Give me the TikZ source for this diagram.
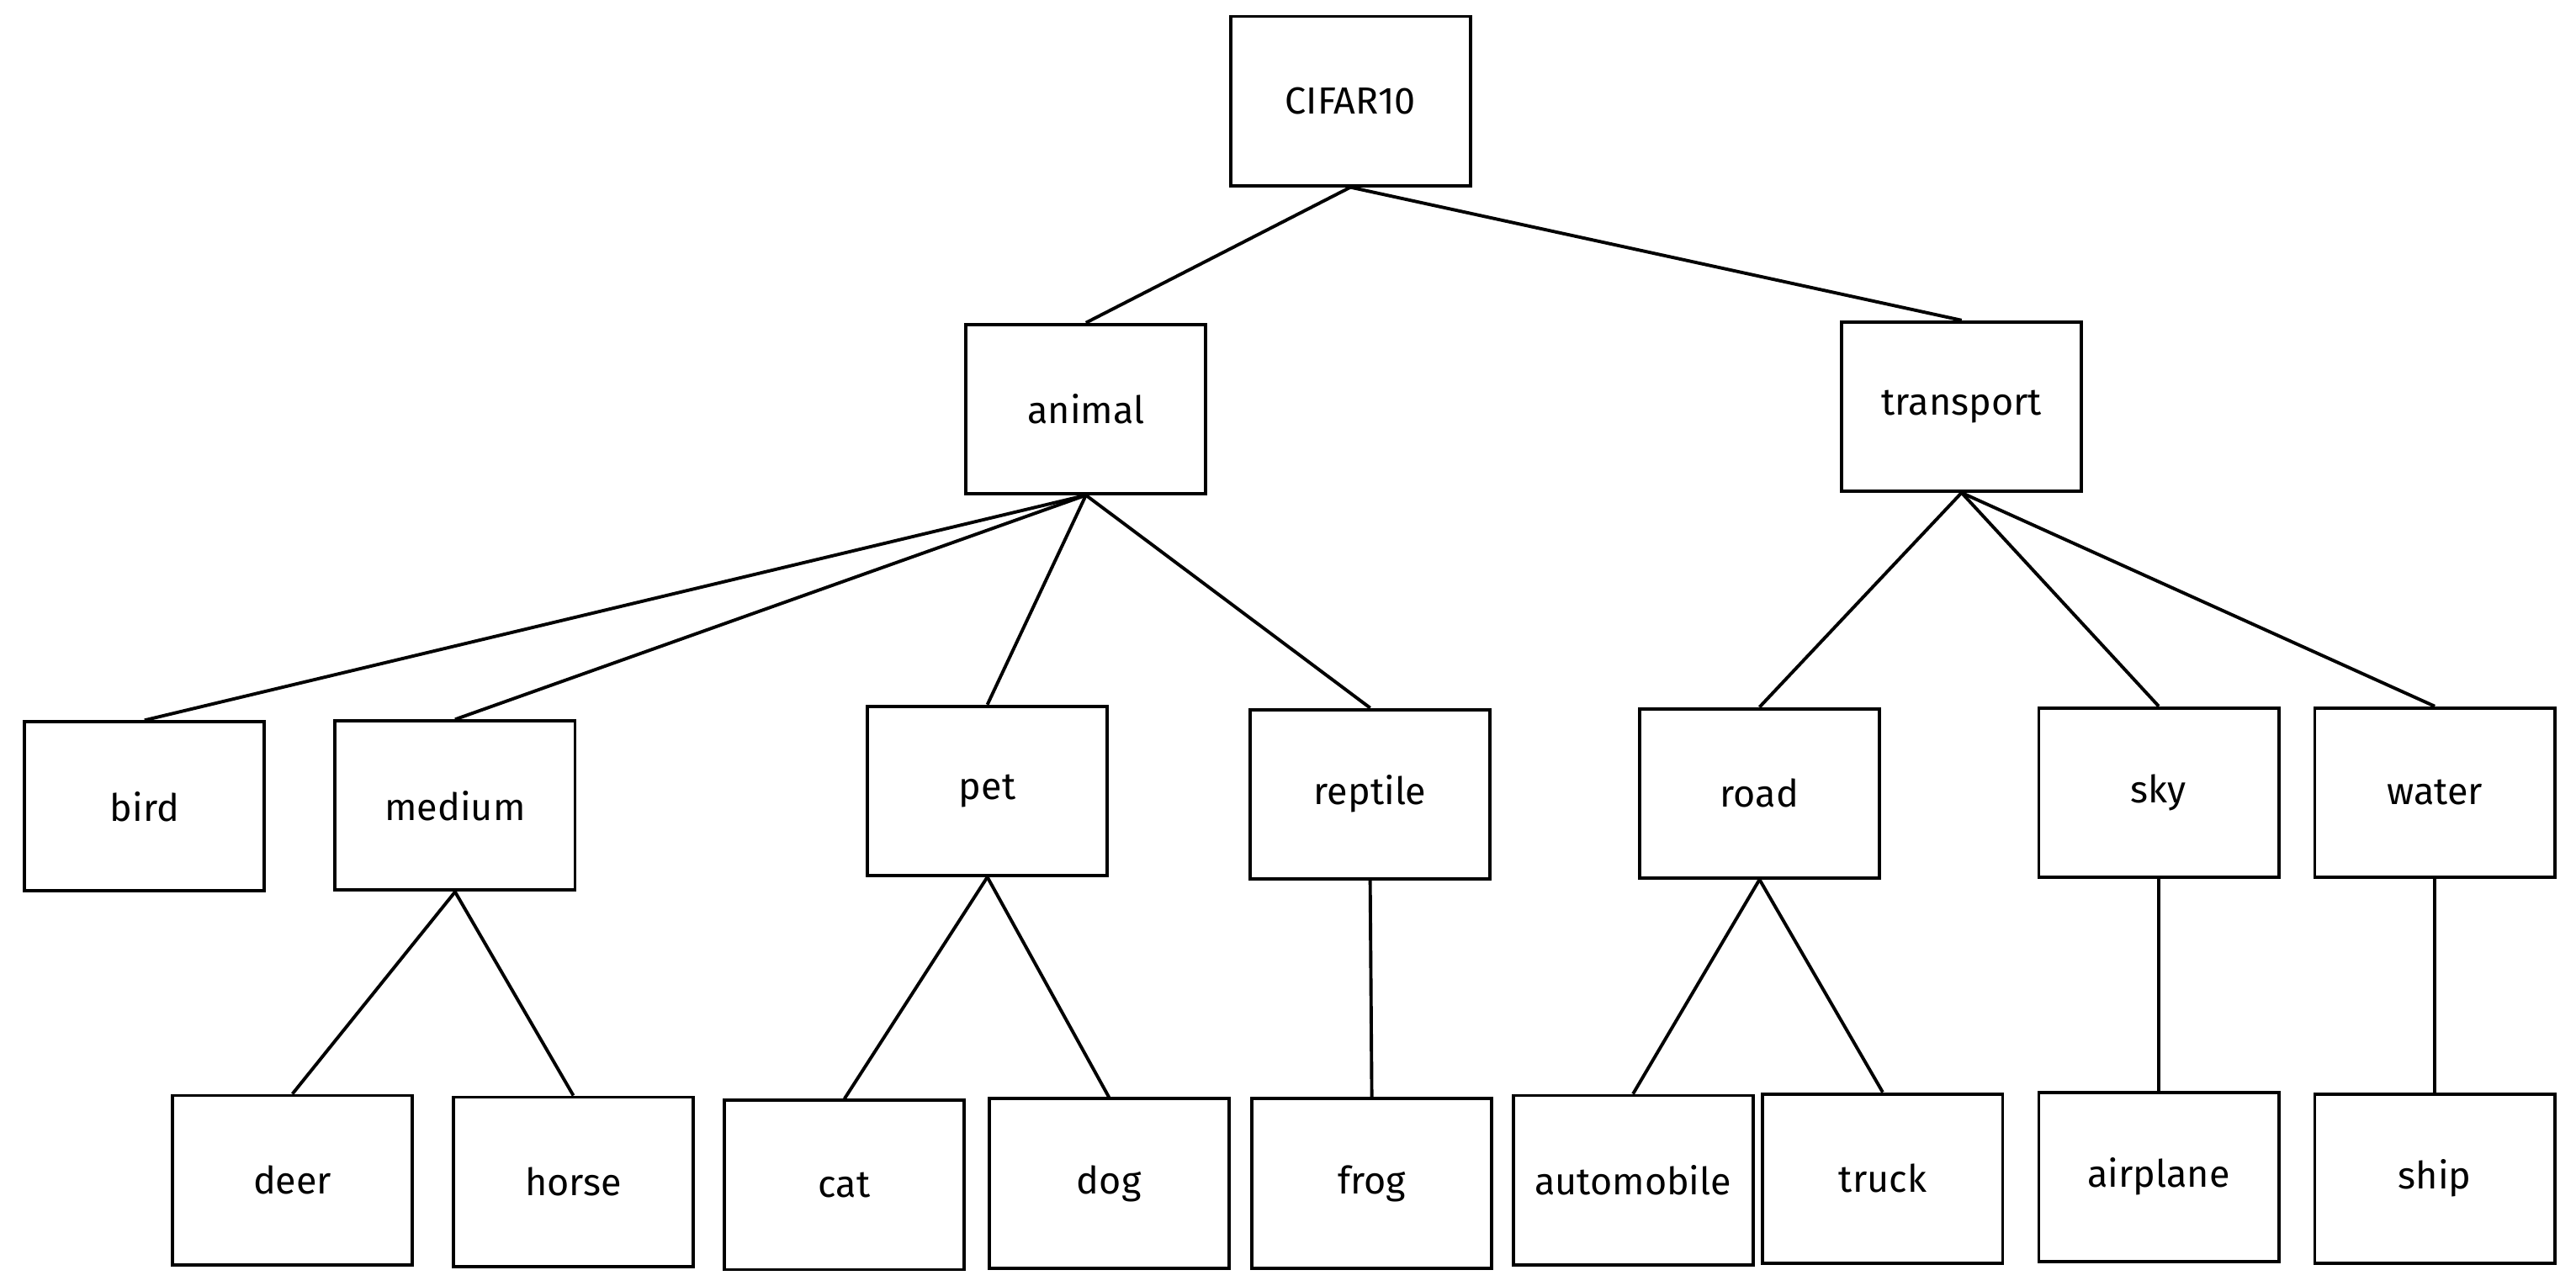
\documentclass[tikz,border=0pt]{standalone}
\usepackage{fontspec}
\setmainfont{Fira Sans}
\begin{document}
\begin{tikzpicture}[x=1pt,y=-1pt,
  box/.style={draw,line width=2pt,minimum width=146pt,minimum height=103pt,inner sep=0pt,font=\fontsize{23}{26}\selectfont},
  edge/.style={line width=2pt}]
\useasboundingbox (0,0) rectangle (1568,782.5);
\node[box] (cifar) at (822,61.5) {CIFAR10};
\node[box] (animal) at (661,249) {animal};
\node[box] (transport) at (1194,247.5) {transport};
\node[box] (bird) at (88,491) {bird};
\node[box] (medium) at (277,490.5) {medium};
\node[box] (pet) at (601,481.5) {pet};
\node[box] (reptile) at (834,483.5) {reptile};
\node[box] (road) at (1071,483) {road};
\node[box] (sky) at (1314,482.5) {sky};
\node[box] (water) at (1482,482.5) {water};
\node[box] (deer) at (178,718.5) {deer};
\node[box] (horse) at (349,719.5) {horse};
\node[box] (cat) at (514,721.5) {cat};
\node[box] (dog) at (675,720.5) {dog};
\node[box] (frog) at (835,720.5) {frog};
\node[box] (automobile) at (994,718.5) {automobile};
\node[box] (truck) at (1146,717.5) {truck};
\node[box] (airplane) at (1314,716.5) {airplane};
\node[box] (ship) at (1482,717.5) {ship};
\foreach \a/\b in {cifar/animal,cifar/transport,animal/bird,animal/medium,animal/pet,animal/reptile,
  transport/road,transport/sky,transport/water,medium/deer,medium/horse,pet/cat,pet/dog,reptile/frog,
  road/automobile,road/truck,sky/airplane,water/ship}
  \draw[edge] (\a.south) -- (\b.north);
\end{tikzpicture}
\end{document}
